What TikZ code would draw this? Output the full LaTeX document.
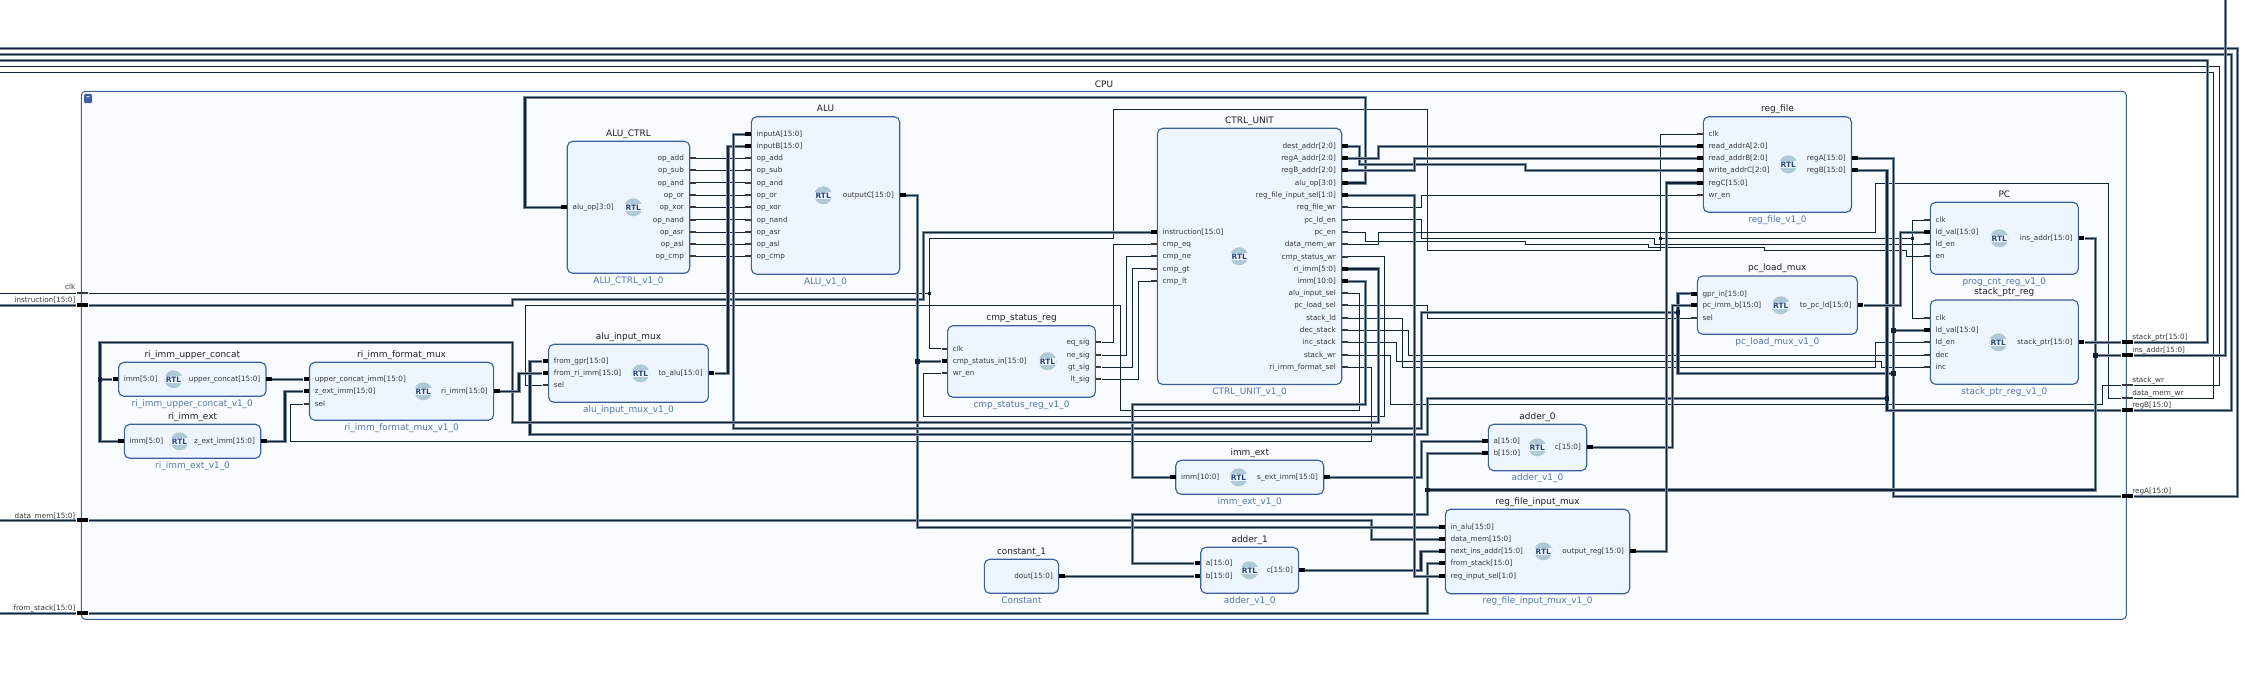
\documentclass[tikz,border=0pt]{standalone}
\usepackage{fontspec}
\setmainfont{DejaVu Sans}
\usetikzlibrary{fit,calc}
\definecolor{cpufill}{RGB}{249,252,254}
\definecolor{blockfill}{RGB}{237,245,254}
\definecolor{blockedge}{RGB}{61,95,158}
\definecolor{subtext}{RGB}{86,118,178}
\definecolor{wirecore}{RGB}{16,34,56}
\definecolor{wirehalo}{RGB}{122,140,156}
\definecolor{rtlgrey}{RGB}{176,201,214}
\definecolor{rtlblue}{RGB}{38,70,124}
\tikzset{
	cpubox/.style={draw=blockedge,fill=cpufill,line width=0.75pt,rounded corners=3pt,inner sep=0pt},
	blockbox/.style={draw=blockedge,fill=blockfill,line width=0.85pt,rounded corners=4pt,inner sep=0pt},
	blocktitle/.style={inner sep=0pt,text=black!88,text height=5pt,text depth=0pt,font=\fontsize{6.7pt}{8pt}\selectfont},
	blocksub/.style={inner sep=0pt,text=subtext,text height=5pt,text depth=0pt,font=\fontsize{6.7pt}{8pt}\selectfont},
	pinlabel/.style={inner sep=0pt,text=black!78,text height=5pt,text depth=1pt,font=\fontsize{5.45pt}{6.5pt}\selectfont},
	pinthin/.style={fill=black!78,inner sep=0pt,minimum width=4.3pt,minimum height=1.5pt},
	pinbus/.style={fill=black,inner sep=0pt,minimum width=4.3pt,minimum height=3pt},
	extthin/.style={fill=black!78,inner sep=0pt,minimum width=8.7pt,minimum height=1.5pt},
	extbus/.style={fill=black,inner sep=0pt,minimum width=8.7pt,minimum height=3pt},
	rtlicon/.style={circle,fill=rtlgrey,inner sep=0pt,minimum size=13.5pt,text=rtlblue,
		font=\fontsize{5.6pt}{6pt}\selectfont\bfseries,
		path picture={\fill[blockfill] ([xshift=-8pt,yshift=-2.6pt]path picture bounding box.center) rectangle ([xshift=8pt,yshift=2.6pt]path picture bounding box.center);}},
	wire/.style={draw=wirecore,line width=0.75pt},
	bus/.style={draw=wirecore,line width=1.05pt,preaction={draw=wirehalo,line width=2.5pt}},
	dotthin/.style={fill=wirecore,inner sep=0pt,minimum size=2.2pt},
	dotbus/.style={fill=wirecore,inner sep=0pt,minimum size=3.4pt},
	collapse/.style={fill=blockedge,rounded corners=1pt,inner sep=0pt,minimum width=6pt,minimum height=7pt,text=white,font=\fontsize{6pt}{6pt}\selectfont\bfseries}
}
\newcommand{\block}[7]{%
	\node[blockbox,fit={(#2,#3) (#4,#5)}] (#1) {};
	\node[blocktitle] (#1 title) at ($(#1.north)+(0,-8)$) {#6};
	\node[blocksub] (#1 sub) at ($(#1.south)+(0,6)$) {#7};
}
\newcommand{\pinL}[5]{%
	\node[#1,anchor=east] (#2) at (#3,#4) {};
	\node[pinlabel,anchor=west] (#2 text) at (#3+5,#4) {#5};
}
\newcommand{\pinR}[5]{%
	\node[#1,anchor=west] (#2) at (#3,#4) {};
	\node[pinlabel,anchor=east] (#2 text) at (#3-5.5,#4) {#5};
}
\begin{document}
\begin{tikzpicture}[x=0.75pt,y=0.75pt,yscale=-1,xscale=1]
	\useasboundingbox (0,0) rectangle (2245,691);

	\node[cpubox,fit={(81.3,91.3) (2126.3,619.3)}] (cpu) {};
	\node[blocktitle] (cpu title) at (1104,83.7) {CPU};
	\node[collapse] (cpu minus) at (88,98.5) {–};

	\block{aluctrl}{567.3}{141.3}{689.7}{273.3}{ALU\_CTRL}{ALU\_CTRL\_v1\_0}
	\block{alu}{751.4}{116.7}{899.7}{274.3}{ALU}{ALU\_v1\_0}
	\block{ctrl}{1157.4}{128.3}{1341.7}{384.5}{CTRL\_UNIT}{CTRL\_UNIT\_v1\_0}
	\block{rf}{1703.3}{116.7}{1851.5}{212.3}{reg\_file}{reg\_file\_v1\_0}
	\block{pc}{1930.3}{202.3}{2078.3}{274.3}{PC}{prog\_cnt\_reg\_v1\_0}
	\block{stack}{1930.3}{300}{2078.3}{384.3}{stack\_ptr\_reg}{stack\_ptr\_reg\_v1\_0}
	\block{pcm}{1697.3}{276}{1857.3}{334.3}{pc\_load\_mux}{pc\_load\_mux\_v1\_0}
	\block{cmp}{947.6}{325.7}{1095.4}{397.3}{cmp\_status\_reg}{cmp\_status\_reg\_v1\_0}
	\block{muxalu}{548.6}{344.3}{708.4}{402.3}{alu\_input\_mux}{alu\_input\_mux\_v1\_0}
	\block{rifmt}{309.5}{362.3}{493.6}{420.3}{ri\_imm\_format\_mux}{ri\_imm\_format\_mux\_v1\_0}
	\block{ricon}{118.6}{362.3}{266}{396.3}{ri\_imm\_upper\_concat}{ri\_imm\_upper\_concat\_v1\_0}
	\block{riext}{124.4}{424.3}{260.7}{458.3}{ri\_imm\_ext}{ri\_imm\_ext\_v1\_0}
	\block{immext}{1175.8}{460.3}{1323.7}{494.3}{imm\_ext}{imm\_ext\_v1\_0}
	\block{add0}{1488.3}{424.3}{1586.7}{470.7}{adder\_0}{adder\_v1\_0}
	\block{add1}{1200.7}{547.3}{1298.6}{593.3}{adder\_1}{adder\_v1\_0}
	\block{const}{984.4}{559.3}{1058.6}{593.3}{constant\_1}{Constant}
	\block{mux}{1445.3}{509.3}{1629.7}{593.7}{reg\_file\_input\_mux}{reg\_file\_input\_mux\_v1\_0}

	\foreach \nm/\xx/\yy in {aluctrl/633.3/207.3,alu/823.2/195.3,ctrl/1239.3/256.3,rf/1788.3/164.3,pc/1999.3/238.3,stack/1998.3/342.3,pcm/1780.7/305.3,cmp/1047.6/361.3,muxalu/640.5/373.3,rifmt/423.3/391.3,ricon/173.5/379.3,riext/179.5/441.3,immext/1238.5/477.3,add0/1537.3/447.3,add1/1249.5/570.3,mux/1543.3/551.3}
		\node[rtlicon] (\nm rtl) at (\xx,\yy) {RTL};

	\pinL{pinbus}{aluctrl_aluop}{567.3}{207.3}{alu\_op[3:0]}
	\foreach \nm/\yy in {add/158.3,sub/170.3,and/183,or/195.3,xor/207.3,nand/220,asr/232.3,asl/244.3,cmp/256.3}{
		\pinR{pinthin}{aluctrl_\nm}{689.7}{\yy}{op\_\nm}
		\pinL{pinthin}{alu_\nm}{751.4}{\yy}{op\_\nm}
	}
	\pinL{pinbus}{alu_ina}{751.4}{134.3}{inputA[15:0]}
	\pinL{pinbus}{alu_inb}{751.4}{146.3}{inputB[15:0]}
	\pinR{pinbus}{alu_outc}{899.7}{195.3}{outputC[15:0]}

	\pinL{pinbus}{ctrl_instr}{1157.4}{232.3}{instruction[15:0]}
	\foreach \nm/\yy in {eq/244.3,ne/256.3,gt/268.7,lt/281.3}{
		\pinL{pinthin}{ctrl_\nm}{1157.4}{\yy}{cmp\_\nm}
	}
	\foreach \nm/\yy/\lbl in {dest/146.3/dest\_addr[2:0],regaaddr/158.3/regA\_addr[2:0],regbaddr/170.3/regB\_addr[2:0],aluop/183/alu\_op[3:0],rfsel/195.3/reg\_file\_input\_sel[1:0],riimm/269/ri\_imm[5:0],imm/281.3/imm[10:0]}{
		\pinR{pinbus}{ctrl_\nm}{1341.7}{\yy}{\lbl}
	}
	\foreach \nm/\yy/\lbl in {rfwr/207.3/reg\_file\_wr,pcld/220/pc\_ld\_en,pcen/232.3/pc\_en,dmw/244.3/data\_mem\_wr,cmpwr/256.7/cmp\_status\_wr,alusel/293.3/alu\_input\_sel,pcsel/305.3/pc\_load\_sel,stackld/318.3/stack\_ld,dec/330.3/dec\_stack,inc/342.3/inc\_stack,stackwr/355.3/stack\_wr,fmtsel/367.3/ri\_imm\_format\_sel}{
		\pinR{pinthin}{ctrl_\nm}{1341.7}{\yy}{\lbl}
	}

	\pinL{pinthin}{rf_clk}{1703.3}{134.3}{clk}
	\pinL{pinbus}{rf_ra}{1703.3}{146.3}{read\_addrA[2:0]}
	\pinL{pinbus}{rf_rb}{1703.3}{158.3}{read\_addrB[2:0]}
	\pinL{pinbus}{rf_wa}{1703.3}{170.3}{write\_addrC[2:0]}
	\pinL{pinbus}{rf_regc}{1703.3}{183}{regC[15:0]}
	\pinL{pinthin}{rf_wren}{1703.3}{195.3}{wr\_en}
	\pinR{pinbus}{rf_rega}{1851.5}{158.3}{regA[15:0]}
	\pinR{pinbus}{rf_regb}{1851.5}{170.3}{regB[15:0]}

	\pinL{pinthin}{pc_clk}{1930.3}{220.3}{clk}
	\pinL{pinbus}{pc_ldval}{1930.3}{232.3}{ld\_val[15:0]}
	\pinL{pinthin}{pc_lden}{1930.3}{244.3}{ld\_en}
	\pinL{pinthin}{pc_en}{1930.3}{256.3}{en}
	\pinR{pinbus}{pc_out}{2078.3}{238.3}{ins\_addr[15:0]}

	\pinL{pinthin}{stack_clk}{1930.3}{318.3}{clk}
	\pinL{pinbus}{stack_ldval}{1930.3}{330.3}{ld\_val[15:0]}
	\pinL{pinthin}{stack_lden}{1930.3}{342.3}{ld\_en}
	\pinL{pinthin}{stack_dec}{1930.3}{355.3}{dec}
	\pinL{pinthin}{stack_inc}{1930.3}{367.3}{inc}
	\pinR{pinbus}{stack_out}{2078.3}{342.3}{stack\_ptr[15:0]}

	\pinL{pinbus}{pcm_gpr}{1697.3}{293.7}{gpr\_in[15:0]}
	\pinL{pinbus}{pcm_imm}{1697.3}{305.3}{pc\_imm\_b[15:0]}
	\pinL{pinthin}{pcm_sel}{1697.3}{318.3}{sel}
	\pinR{pinbus}{pcm_out}{1857.3}{305.3}{to\_pc\_ld[15:0]}

	\pinL{pinthin}{cmp_clk}{947.6}{349}{clk}
	\pinL{pinbus}{cmp_in}{947.6}{361.3}{cmp\_status\_in[15:0]}
	\pinL{pinthin}{cmp_wren}{947.6}{373.3}{wr\_en}
	\foreach \nm/\yy in {eq/342.3,ne/355.3,gt/367.3,lt/379.3}{
		\pinR{pinthin}{cmp_\nm}{1095.4}{\yy}{\nm\_sig}
	}

	\pinL{pinbus}{muxalu_gpr}{548.6}{361.3}{from\_gpr[15:0]}
	\pinL{pinbus}{muxalu_ri}{548.6}{373.3}{from\_ri\_imm[15:0]}
	\pinL{pinthin}{muxalu_sel}{548.6}{385.3}{sel}
	\pinR{pinbus}{muxalu_out}{708.4}{373.3}{to\_alu[15:0]}

	\pinL{pinbus}{rifmt_up}{309.5}{379.3}{upper\_concat\_imm[15:0]}
	\pinL{pinbus}{rifmt_z}{309.5}{391.3}{z\_ext\_imm[15:0]}
	\pinL{pinthin}{rifmt_sel}{309.5}{404.3}{sel}
	\pinR{pinbus}{rifmt_out}{493.6}{391.3}{ri\_imm[15:0]}

	\pinL{pinbus}{ricon_imm}{118.6}{379.3}{imm[5:0]}
	\pinR{pinbus}{ricon_out}{266}{379.3}{upper\_concat[15:0]}
	\pinL{pinbus}{riext_imm}{124.4}{441.3}{imm[5:0]}
	\pinR{pinbus}{riext_out}{260.7}{441.3}{z\_ext\_imm[15:0]}

	\pinL{pinbus}{immext_in}{1175.8}{477.3}{imm[10:0]}
	\pinR{pinbus}{immext_out}{1323.7}{477.3}{s\_ext\_imm[15:0]}

	\pinL{pinbus}{add0_a}{1488.3}{441.3}{a[15:0]}
	\pinL{pinbus}{add0_b}{1488.3}{453.3}{b[15:0]}
	\pinR{pinbus}{add0_c}{1586.7}{447.3}{c[15:0]}
	\pinL{pinbus}{add1_a}{1200.7}{563.3}{a[15:0]}
	\pinL{pinbus}{add1_b}{1200.7}{576.3}{b[15:0]}
	\pinR{pinbus}{add1_c}{1298.6}{570.3}{c[15:0]}
	\pinR{pinbus}{const_dout}{1058.6}{576.3}{dout[15:0]}

	\pinL{pinbus}{mux_inalu}{1445.3}{527.3}{in\_alu[15:0]}
	\pinL{pinbus}{mux_datamem}{1445.3}{539.3}{data\_mem[15:0]}
	\pinL{pinbus}{mux_next}{1445.3}{551.3}{next\_ins\_addr[15:0]}
	\pinL{pinbus}{mux_fromstack}{1445.3}{563.3}{from\_stack[15:0]}
	\pinL{pinbus}{mux_sel}{1445.3}{576.3}{reg\_input\_sel[1:0]}
	\pinR{pinbus}{mux_out}{1629.7}{551.3}{output\_reg[15:0]}

	\foreach \nm/\sty/\yy/\yt/\lbl in {clk/extthin/293.3/287.3/clk,instr/extbus/305.3/300.3/instruction[15:0],datamem/extbus/520.3/515.7/data\_mem[15:0],fromstack/extbus/613.3/607.7/from\_stack[15:0]}{
		\node[\sty] (ext_\nm) at (82.5,\yy) {};
		\node[pinlabel,anchor=east] (ext_\nm text) at (75.6,\yt) {\lbl};
	}
	\foreach \nm/\sty/\yy/\yt/\lbl in {stackptr/extbus/342.3/336.7/stack\_ptr[15:0],insaddr/extbus/355.3/349.7/ins\_addr[15:0],stackwr/extthin/385.3/379.7/stack\_wr,datamemwr/extthin/398.3/392.7/data\_mem\_wr,regb/extbus/410.3/404.7/regB[15:0],rega/extbus/496.3/490.7/regA[15:0]}{
		\node[\sty] (ext_\nm) at (2127.5,\yy) {};
		\node[pinlabel,anchor=west] (ext_\nm text) at (2132,\yt) {\lbl};
	}

	\coordinate (lft_clk) at (0,293.3);
	\coordinate (lft_instr) at (0,305.3);
	\coordinate (lft_datamem) at (0,520.3);
	\coordinate (lft_fromstack) at (0,613.3);
	\coordinate (top_rega) at (0,48.3);
	\coordinate (top_regb) at (0,54.3);
	\coordinate (top_stackptr) at (0,60.3);
	\coordinate (top_stackwr) at (0,66.3);
	\coordinate (top_datamemwr) at (0,72.3);
	\coordinate (top_insaddr) at (2225.3,0);
	\coordinate (j_clka) at (929.4,293.3);
	\coordinate (j_clkb) at (1660.3,238.3);
	\coordinate (j_clkc) at (1912.3,238.3);
	\coordinate (j_outc) at (917.4,361.3);
	\coordinate (j_regaa) at (1893.3,330.3);
	\coordinate (j_regab) at (1893.3,373.3);
	\coordinate (j_regac) at (1678,312.3);
	\coordinate (j_regb) at (1887,398.3);
	\coordinate (j_insa) at (1427.3,490);
	\coordinate (j_insb) at (2095.7,355.3);
	\coordinate (j_ri) at (100,379.3);

	\draw[wire] (lft_clk) -- (ext_clk);
	\draw[wire] (ext_clk) -- (j_clka);
	\draw[wire] (j_clka) |- (cmp_clk);
	\draw[wire] (j_clka) |- (1113.6,238.3) |- (1427.3,109.3) |- (1660.3,250.3) |- (rf_clk);
	\draw[wire] (j_clkb) -- (j_clkc);
	\draw[wire] (j_clkc) |- (pc_clk);
	\draw[wire] (j_clkc) |- (stack_clk);
	\foreach \nm in {add,sub,and,or,xor,nand,asr,asl,cmp}{
		\draw[wire] (aluctrl_\nm) -- (alu_\nm);
	}
	\draw[wire] (ctrl_rfwr) -| (1421.7,195.3) -- (rf_wren);
	\draw[wire] (ctrl_pcld) -| (1421.3,238.3) -| (1654.3,244.3) -- (pc_lden);
	\draw[wire] (ctrl_pcen) -| (1365.7,241.3) -| (1525,244.3) -| (1648.3,247.3) -| (1764.3,250.3) -| (1906.3,256.3) -- (pc_en);
	\draw[wire] (ctrl_dmw) -| (1378.3,232.3) -| (1875.3,183.3) -| (2108.4,398.3) -- (ext_datamemwr);
	\draw[wire] (ctrl_cmpwr) -| (1384.3,416.3) -| (923.6,373.3) -- (cmp_wren);
	\draw[wire] (ctrl_alusel) -| (1359.7,410.3) -| (1120.8,305.3) -| (525,385.3) -- (muxalu_sel);
	\draw[wire] (ctrl_pcsel) -| (1427.7,318.3) -- (pcm_sel);
	\draw[wire] (ctrl_stackld) -| (1402.7,367.3) -| (1875.7,342.3) -- (stack_lden);
	\draw[wire] (ctrl_dec) -| (1408.7,355.3) -- (stack_dec);
	\draw[wire] (ctrl_inc) -| (1396.7,361.3) -| (1881.7,367.3) -- (stack_inc);
	\draw[wire] (ctrl_stackwr) -| (1390.7,404.3) -| (2102.3,385.3) -- (ext_stackwr);
	\draw[wire] (ctrl_fmtsel) -| (1371.3,441.3) -| (290.8,404.3) -- (rifmt_sel);
	\draw[wire] (cmp_eq) -| (1113.7,244.3) -- (ctrl_eq);
	\draw[wire] (cmp_ne) -| (1126.5,256.3) -- (ctrl_ne);
	\draw[wire] (cmp_gt) -| (1132.7,268.7) -- (ctrl_gt);
	\draw[wire] (cmp_lt) -| (1138.7,281.3) -- (ctrl_lt);
	\draw[wire] (ext_stackwr) -| (2219.3,66.3) -- (top_stackwr);
	\draw[wire] (ext_datamemwr) -| (2213.3,72.3) -- (top_datamemwr);

	\draw[bus] (lft_instr) -- (ext_instr);
	\draw[bus] (ext_instr) -| (512.7,299.3) -| (923.6,232.3) -- (ctrl_instr);
	\draw[bus] (lft_datamem) -- (ext_datamem);
	\draw[bus] (ext_datamem) -| (1371.3,539.3) -- (mux_datamem);
	\draw[bus] (lft_fromstack) -- (ext_fromstack);
	\draw[bus] (ext_fromstack) -| (1427.3,563.3) -- (mux_fromstack);
	\draw[bus] (ctrl_aluop) -| (1365.7,97.3) -| (525,207.3) -- (aluctrl_aluop);
	\draw[bus] (alu_outc) -| (917.4,527.3) -- (mux_inalu);
	\draw[bus] (j_outc) -- (cmp_in);
	\draw[bus] (muxalu_out) -| (728,146.3) -- (alu_inb);
	\draw[bus] (rf_rega) -| (1893.3,496.3) -- (ext_rega);
	\draw[bus] (j_regaa) -- (stack_ldval);
	\draw[bus] (j_regab) -| (1678,293.7) -- (pcm_gpr);
	\draw[bus] (j_regac) -| (1421.7,428.3) -| (733.2,134.3) -- (alu_ina);
	\draw[bus] (rf_regb) -| (1887,410.3) -- (ext_regb);
	\draw[bus] (j_regb) -| (1427.7,434.3) -| (530,361.3) -- (muxalu_gpr);
	\draw[bus] (pc_out) -| (2095.7,490) -- (j_insa);
	\draw[bus] (j_insb) -- (ext_insaddr);
	\draw[bus] (j_insa) |- (add0_b);
	\draw[bus] (j_insa) |- (1132.6,514.3) |- (add1_a);
	\draw[bus] (ctrl_imm) -| (1365.7,404.3) -| (1132.3,477.3) -- (immext_in);
	\draw[bus] (immext_out) -| (1421.4,441.3) -- (add0_a);
	\draw[bus] (add0_c) -| (1672.3,305.3) -- (pcm_imm);
	\draw[bus] (add1_c) -| (1421,551.3) -- (mux_next);
	\draw[bus] (const_dout) -- (add1_b);
	\draw[bus] (mux_out) -| (1666.5,183) -- (rf_regc);
	\draw[bus] (ctrl_rfsel) -| (1414.7,576.3) -- (mux_sel);
	\draw[bus] (ctrl_dest) -| (1359.3,164.3) -| (1525.7,170.3) -- (rf_wa);
	\draw[bus] (ctrl_regaaddr) -| (1378.3,146.3) -- (rf_ra);
	\draw[bus] (ctrl_regbaddr) -| (1414.7,158.3) -- (rf_rb);
	\draw[bus] (ctrl_riimm) -| (1378.3,422.3) -| (512.7,342.3) -| (100,441.3) -- (riext_imm);
	\draw[bus] (j_ri) -- (ricon_imm);
	\draw[bus] (ricon_out) -- (rifmt_up);
	\draw[bus] (riext_out) -| (285,391.3) -- (rifmt_z);
	\draw[bus] (rifmt_out) -| (519,373.3) -- (muxalu_ri);
	\draw[bus] (pcm_out) -| (1900.3,232.3) -- (pc_ldval);
	\draw[bus] (stack_out) -- (ext_stackptr);
	\draw[bus] (ext_rega) -| (2237.3,48.3) -- (top_rega);
	\draw[bus] (ext_regb) -| (2231.3,54.3) -- (top_regb);
	\draw[bus] (ext_stackptr) -| (2207.3,60.3) -- (top_stackptr);
	\draw[bus] (ext_insaddr) -| (top_insaddr);

	\foreach \nm in {j_clka,j_clkb,j_clkc}{
		\node[dotthin] (\nm dot) at (\nm) {};
	}
	\foreach \nm in {j_outc,j_regaa,j_regab,j_regac,j_regb,j_insa,j_insb,j_ri}{
		\node[dotbus] (\nm dot) at (\nm) {};
	}
\end{tikzpicture}
\end{document}
